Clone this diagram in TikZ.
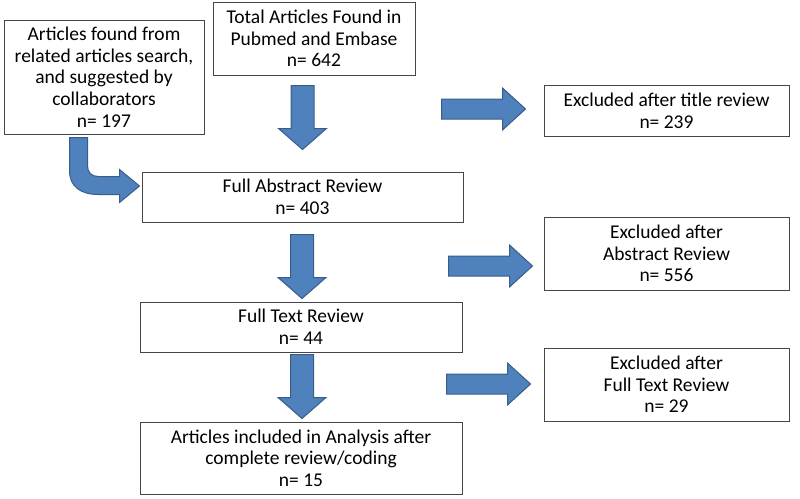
\documentclass[tikz,border=0pt]{standalone}
\usepackage{fontspec}
\setmainfont{Carlito}
\usetikzlibrary{calc,positioning}

\definecolor{arrowfill}{RGB}{79,129,189}
\definecolor{arrowline}{RGB}{56,93,138}
\definecolor{boxline}{RGB}{70,70,70}

\tikzset{
  blockarrow/.style={fill=arrowfill, draw=arrowline, line width=1pt, line join=miter},
  downarrow/.pic={\draw[blockarrow] (0,0) -- (-24,-21) -- (-11.5,-21) -- (-11.5,-64)
      -- (11.5,-64) -- (11.5,-21) -- (24,-21) -- cycle;},
  rightarrow/.pic={\draw[blockarrow] (0,0) -- (-23,-21) -- (-23,-10) -- (-84,-10)
      -- (-84,10) -- (-23,10) -- (-23,21) -- cycle;},
  bentarrow/.pic={\draw[blockarrow] (66,3) -- (84,3) -- (84,31) .. controls (84,38) and (88,42) .. (95,42)
      -- (116,42) -- (116,35) -- (136,51.5) -- (116,68) -- (116,60) -- (95,60)
      .. controls (77,60) and (66,52) .. (66,36) -- cycle;}
}

\begin{document}
\begin{tikzpicture}[x=1pt, y=-1pt,
    box/.style={draw=boxline, line width=1pt, fill=white, align=center, inner sep=2pt,
      font=\fontsize{19.5}{21.7}\selectfont}]
    \useasboundingbox (0,0) rectangle (800,498);
    \node [box, minimum width=321pt, minimum height=50pt] (abstract) at (302.5,197)
          {Full Abstract Review\\n= 403};
    \node [box, minimum width=202pt, minimum height=73pt] [above=96pt of abstract, xshift=11.5pt] (total)
          {Total Articles Found in\\Pubmed and Embase\\n= 642};
    \node [box, minimum width=200pt, minimum height=114pt] [below left=18pt and 8pt of total.north west] (found)
          {Articles found from\\related articles search,\\and suggested by\\collaborators\\n= 197};
    \node [box, minimum width=322pt, minimum height=50pt] [below=79pt of abstract, xshift=-1.5pt] (fulltext)
          {Full Text Review\\n= 44};
    \node [box, minimum width=322pt, minimum height=72pt] [below=69pt of fulltext] (included)
          {Articles included in Analysis after\\complete review/coding\\n= 15};
    \node [box, minimum width=245pt, minimum height=73pt] [above right=11pt and 81pt of fulltext.north east] (exabs)
          {Excluded after\\Abstract Review\\n= 556};
    \node [box, minimum width=245pt, minimum height=51pt] [above=80pt of exabs] (title)
          {Excluded after title review\\n= 239};
    \node [box, minimum width=245pt, minimum height=73pt] [below=57pt of exabs] (exfull)
          {Excluded after\\Full Text Review\\n= 29};
    \pic at ($(abstract.north)+(0,-22)$) {downarrow};
    \pic at ($(fulltext.north)+(1,-3)$) {downarrow};
    \pic at ($(included.north)+(1,-3)$) {downarrow};
    \pic at ($(title.west)+(-18,-1.5)$) {rightarrow};
    \pic at ($(exabs.west)+(-11,12.5)$) {rightarrow};
    \pic at ($(exfull.west)+(-13,-0.5)$) {rightarrow};
    \pic at (found.south west) {bentarrow};
\end{tikzpicture}
\end{document}
